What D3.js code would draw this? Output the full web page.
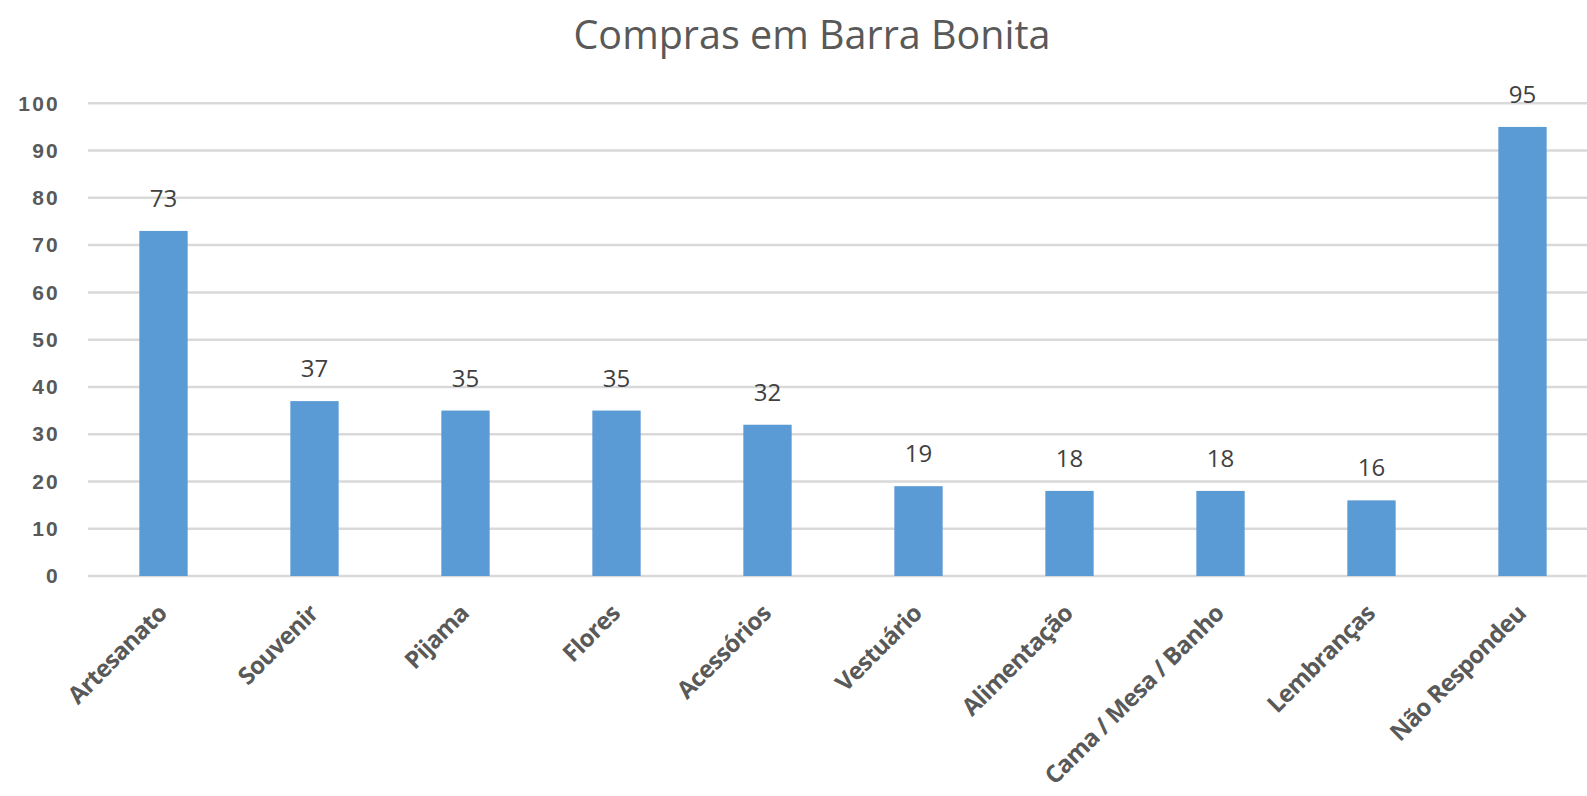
<!DOCTYPE html>
<html><head><meta charset="utf-8">
<script src="https://cdn.jsdelivr.net/npm/d3@7"></script>
<style>body{margin:0;background:#fff;overflow:hidden}</style>
</head><body>
<svg id="c" width="1587" height="796"></svg>
<script>
const categories = ["Artesanato","Souvenir","Pijama","Flores","Acessórios","Vestuário","Alimentação","Cama / Mesa / Banho","Lembranças","Não Respondeu"];
const values = [73,37,35,35,32,19,18,18,16,95];
const yTicks = [0,10,20,30,40,50,60,70,80,90,100];
const title = "Compras em Barra Bonita";

const svg = d3.select("#c");
const x = d3.scaleBand().domain(categories).range([88,1598]).paddingInner(0.68).paddingOuter(0.34);
const y = d3.scaleLinear().domain([0,100]).range([576,103.3]);

svg.append("text").attr("x",812).attr("y",49).attr("text-anchor","middle")
  .attr("font-family","Open Sans, sans-serif").attr("font-size",39.5).attr("fill","#595959").text(title);

const grid = svg.append("g");
grid.selectAll("line").data(yTicks).join("line")
  .attr("x1",88).attr("x2",1587).attr("y1",d=>y(d)).attr("y2",d=>y(d))
  .attr("stroke","#d9d9d9").attr("stroke-width",2.5);

const yAxis = svg.append("g").attr("transform","translate(60,0)")
  .call(d3.axisLeft(y).tickValues(yTicks).tickSize(0).tickPadding(0));
yAxis.select(".domain").remove();
yAxis.selectAll("text").attr("font-family","Liberation Sans, Arial, sans-serif").attr("font-weight","bold")
  .attr("font-size",21).attr("fill","#595959").attr("letter-spacing",2.2);

svg.append("g").selectAll("rect").data(values).join("rect")
  .attr("x",(d,i)=>x(categories[i])).attr("width",x.bandwidth())
  .attr("y",d=>y(d)).attr("height",d=>y(0)-y(d)).attr("fill","#5b9bd5");

svg.append("g").selectAll("text").data(values).join("text")
  .attr("x",(d,i)=>x(categories[i])+x.bandwidth()/2).attr("y",d=>y(d)-24)
  .attr("text-anchor","middle").attr("font-family","Open Sans, sans-serif").attr("font-size",24)
  .attr("fill","#404040").text(d=>d);

const xAxis = svg.append("g").attr("transform","translate(0,576)")
  .call(d3.axisBottom(x).tickSize(0).tickPadding(0));
xAxis.select(".domain").remove();
xAxis.selectAll("text")
  .attr("font-family","Open Sans, sans-serif").attr("font-weight","bold").attr("font-size",24)
  .attr("fill","#595959").attr("letter-spacing",-0.6)
  .attr("text-anchor","end").attr("dy","0.35em")
  .attr("transform","translate(-1,33) rotate(-45)");
</script>
</body></html>
